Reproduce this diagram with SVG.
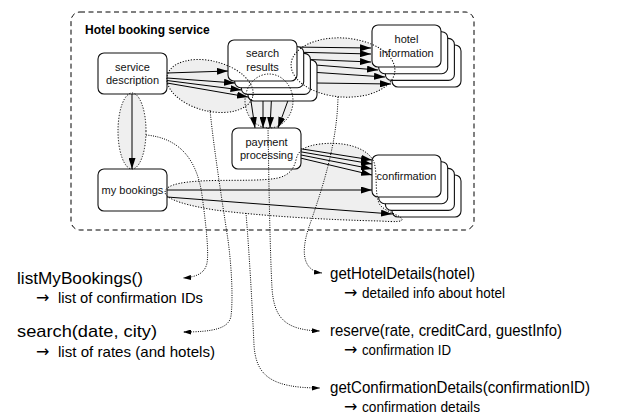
<svg xmlns="http://www.w3.org/2000/svg" width="641" height="416" viewBox="0 0 641 416">
<style>
.frame{fill:none;stroke:#000;stroke-width:1;stroke-dasharray:5 3.5}
.box{fill:#fff;stroke:#111;stroke-width:1.1}
.lbl{font-family:"Liberation Sans",Arial,sans-serif;font-size:11px;fill:#111;text-anchor:middle}
.title{font-family:"Liberation Sans",Arial,sans-serif;font-size:12px;font-weight:bold;fill:#000}
.grpfill{fill:#efefef;stroke:none}
.grpline{fill:none;stroke:#000;stroke-width:1;stroke-dasharray:1.2 1.6}
.con{fill:none;stroke:#000;stroke-width:1;marker-end:url(#ah)}
.lead{fill:none;stroke:#000;stroke-width:1;stroke-dasharray:1 1.3;marker-end:url(#lh)}
.call{font-family:"Liberation Sans",Arial,sans-serif;font-size:17px;fill:#000}
.ret{font-family:"Liberation Sans",Arial,sans-serif;font-size:14.5px;fill:#000}
.arr{font-family:"DejaVu Sans",sans-serif;font-size:16px;fill:#000}
</style>
<defs>
<marker id="ah" markerWidth="11" markerHeight="7" refX="11" refY="3.5" orient="auto" markerUnits="userSpaceOnUse"><path d="M0,0 L11,3.5 L0,7 z" fill="#000"/></marker>
<marker id="lh" markerWidth="8" markerHeight="5" refX="8" refY="2.5" orient="auto" markerUnits="userSpaceOnUse"><path d="M0,0 L8,2.5 L0,5 z" fill="#000"/></marker>
</defs>
<rect class="frame" x="71" y="12" width="403" height="218" rx="9"/>
<text class="title" x="85" y="34">Hotel booking service</text>
<g id="group-fills">
<ellipse class="grpfill" cx="210" cy="86" rx="44" ry="25" transform="rotate(14 210 86)"/>
<ellipse class="grpfill" cx="343" cy="67.5" rx="52" ry="29.5" transform="rotate(4 343 67.5)"/>
<ellipse class="grpfill" cx="269" cy="101" rx="24" ry="27"/>
<ellipse class="grpfill" cx="132" cy="131" rx="14" ry="38"/>
<path class="grpfill" d="M165,192 C166,184 185,181 215,180.5 C240,180 262,181 278,178 C290,175 294,168 296,160 C298,150 305,146 320,144 C345,141 368,148 374,162 C378,175 374,195 380,205 C386,212 400,215 402,219 C403,222 395,222 380,221 C330,220 260,216 215,210 C190,206 165,200 165,192 Z"/>
</g>
<g id="connectors">
<path class="con" d="M167,73 L228,71"/>
<path class="con" d="M167,78 L235,83"/>
<path class="con" d="M167,80.5 L241.5,90"/>
<path class="con" d="M167,83 L248,97"/>
<path class="con" d="M290,47 L371,48"/>
<path class="con" d="M290,52 L371,54"/>
<path class="con" d="M297,59 L371,62"/>
<path class="con" d="M303,64 L378,70"/>
<path class="con" d="M310,72 L385,77"/>
<path class="con" d="M316,83 L391,84"/>
<path class="con" d="M248,81 L255,128"/>
<path class="con" d="M263,81 L263,128"/>
<path class="con" d="M272,88 L270,128"/>
<path class="con" d="M290,95 L278,128"/>
<path class="con" d="M132,94 L132,169"/>
<path class="con" d="M296,148 L372,160"/>
<path class="con" d="M296,151 L372,164"/>
<path class="con" d="M296,154 L372,169"/>
<path class="con" d="M296,157 L372,175"/>
<path class="con" d="M167,190 L372,190"/>
<path class="con" d="M167,197 L392,214"/>
</g>
<g id="service-description">
<rect class="box" x="98" y="53" width="69" height="41" rx="6"/>
<text class="lbl" x="132.5" y="71">service</text>
<text class="lbl" x="132.5" y="84">description</text>
</g>
<g id="search-results">
<rect class="box" x="248" y="60" width="69" height="41" rx="6"/>
<rect class="box" x="241.4" y="53.4" width="69" height="41" rx="6"/>
<rect class="box" x="234.7" y="46.7" width="69" height="41" rx="6"/>
<rect class="box" x="228" y="40" width="69" height="41" rx="6"/>
<text class="lbl" x="262.5" y="57">search</text>
<text class="lbl" x="262.5" y="71">results</text>
</g>
<g id="hotel-information">
<rect class="box" x="392" y="45" width="69" height="42" rx="6"/>
<rect class="box" x="385.4" y="38.4" width="69" height="42" rx="6"/>
<rect class="box" x="378.7" y="31.7" width="69" height="42" rx="6"/>
<rect class="box" x="372" y="25" width="69" height="42" rx="6"/>
<text class="lbl" x="406.5" y="43">hotel</text>
<text class="lbl" x="406.5" y="57">information</text>
</g>
<g id="payment-processing">
<rect class="box" x="232" y="128" width="69" height="41" rx="6"/>
<text class="lbl" x="266.5" y="146">payment</text>
<text class="lbl" x="266.5" y="159">processing</text>
</g>
<g id="confirmation">
<rect class="box" x="392" y="175" width="69" height="42" rx="6"/>
<rect class="box" x="385.4" y="168.4" width="69" height="42" rx="6"/>
<rect class="box" x="378.7" y="161.7" width="69" height="42" rx="6"/>
<rect class="box" x="372" y="155" width="69" height="42" rx="6"/>
<text class="lbl" x="406.5" y="180">confirmation</text>
</g>
<g id="my-bookings">
<rect class="box" x="98" y="169" width="69" height="42" rx="6"/>
<text class="lbl" x="132.5" y="194">my bookings</text>
</g>
<g id="group-outlines">
<ellipse class="grpline" cx="210" cy="86" rx="44" ry="25" transform="rotate(14 210 86)"/>
<ellipse class="grpline" cx="343" cy="67.5" rx="52" ry="29.5" transform="rotate(4 343 67.5)"/>
<ellipse class="grpline" cx="269" cy="101" rx="24" ry="27"/>
<ellipse class="grpline" cx="132" cy="131" rx="14" ry="38"/>
<path class="grpline" d="M165,192 C166,184 185,181 215,180.5 C240,180 262,181 278,178 C290,175 294,168 296,160 C298,150 305,146 320,144 C345,141 368,148 374,162 C378,175 374,195 380,205 C386,212 400,215 402,219 C403,222 395,222 380,221 C330,220 260,216 215,210 C190,206 165,200 165,192 Z"/>
</g>
<g id="leaders">
<path class="lead" d="M146,135 C180,138 197,160 202,195 C206,225 209,252 207,263 C205,273 197,277 183,278"/>
<path class="lead" d="M210,110 C214,150 222,200 228,240 C232,270 233,300 231,316 C229,328 215,332 183,332"/>
<path class="lead" d="M246,213 C249,250 252,300 254,345 C256,375 270,388 320,388"/>
<path class="lead" d="M268,128 C269,190 270,250 272,288 C274,318 285,330 320,331"/>
<path class="lead" d="M338,97 C337,150 318,200 308,230 C300,256 305,271 322,273"/>
</g>
<g id="operations">
<text class="call" x="17" y="284" font-size="17.5" textLength="126" lengthAdjust="spacingAndGlyphs">listMyBookings()</text>
<text class="arr" x="36" y="303">→</text>
<text class="ret" x="58" y="303" font-size="15" textLength="145" lengthAdjust="spacingAndGlyphs">list of confirmation IDs</text>
<text class="call" x="17" y="337" font-size="17.5" textLength="140" lengthAdjust="spacingAndGlyphs">search(date, city)</text>
<text class="arr" x="36" y="357">→</text>
<text class="ret" x="58" y="357" font-size="15" textLength="157" lengthAdjust="spacingAndGlyphs">list of rates (and hotels)</text>
<text class="call" x="330" y="279" textLength="145" lengthAdjust="spacingAndGlyphs">getHotelDetails(hotel)</text>
<text class="arr" x="344" y="298">→</text>
<text class="ret" x="362" y="298" textLength="143" lengthAdjust="spacingAndGlyphs">detailed info about hotel</text>
<text class="call" x="330" y="336" textLength="232" lengthAdjust="spacingAndGlyphs">reserve(rate, creditCard, guestInfo)</text>
<text class="arr" x="344" y="355">→</text>
<text class="ret" x="362" y="355" textLength="89" lengthAdjust="spacingAndGlyphs">confirmation ID</text>
<text class="call" x="330" y="393" textLength="260" lengthAdjust="spacingAndGlyphs">getConfirmationDetails(confirmationID)</text>
<text class="arr" x="344" y="412">→</text>
<text class="ret" x="362" y="412" textLength="118" lengthAdjust="spacingAndGlyphs">confirmation details</text>
</g>
</svg>
